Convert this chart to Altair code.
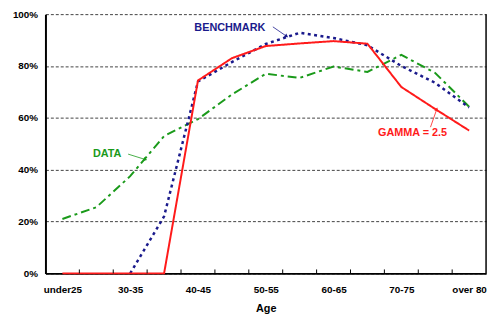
import json
import math
import altair as alt
import pandas as pd

categories = ["under25", "25-30", "30-35", "35-40", "40-45", "45-50", "50-55",
              "55-60", "60-65", "65-70", "70-75", "75-80", "over 80"]
data_vals = [21, 25.5, 37.5, 53, 59.5, 69, 77, 75.4, 79.8, 77.7, 84.3, 77.3, 64.3]
benchmark_vals = [None, None, 0, 22, 74, 81.5, 88.5, 92.8, 90.8, 88, 80, 73.5, 64]
gamma_vals = [0, 0, 0, 0, 74.4, 83, 87.7, 88.7, 89.6, 88.6, 71.9, 63.4, 55.1]

W, H = 447, 263
FONT = "Liberation Sans"
GREEN, NAVY, RED = "#1a9a1a", "#1a1a8c", "#ff1a1a"

rows = []
for name, vals in [("DATA", data_vals), ("BENCHMARK", benchmark_vals), ("GAMMA", gamma_vals)]:
    for i, v in enumerate(vals):
        if v is not None:
            rows.append({"series": name, "idx": i, "value": v})
df = pd.DataFrame(rows)

xscale = alt.Scale(domain=[-0.5, len(categories) - 0.5], nice=False, zero=False)
yscale = alt.Scale(domain=[0, 100], nice=False)

cat_js = json.dumps(categories)
x_axis = alt.Axis(values=list(range(0, len(categories), 2)),
                  labelExpr=f"{cat_js}[datum.value]",
                  ticks=False, grid=False, domainColor="black", domainWidth=2,
                  labelFont=FONT, labelFontWeight="bold", labelFontSize=10,
                  labelColor="black", labelPadding=11,
                  title="Age", titleFont=FONT, titleFontWeight="bold",
                  titleFontSize=11, titleColor="black", titlePadding=9)
y_axis = alt.Axis(values=[0, 20, 40, 60, 80, 100],
                  labelExpr="datum.value + '%'",
                  ticks=False, grid=True, gridColor="#111", gridDash=[3, 2],
                  gridWidth=0.8, domainColor="black", domainWidth=2,
                  labelFont=FONT, labelFontWeight="bold", labelFontSize=10,
                  labelColor="black", labelPadding=8, title=None)

def line_layer(name, color, dash, width):
    return alt.Chart(df).transform_filter(alt.datum.series == name).mark_line(
        color=color, strokeDash=dash, strokeWidth=width
    ).encode(
        x=alt.X("idx:Q", scale=xscale, axis=x_axis),
        y=alt.Y("value:Q", scale=yscale, axis=y_axis),
    )

# inward ticks at category boundaries
bounds = pd.DataFrame({"b": [i + 0.5 for i in range(len(categories) - 1)]})
ticks = alt.Chart(bounds).mark_rule(color="black", strokeWidth=1).encode(
    x=alt.X("b:Q", scale=xscale), y=alt.value(H), y2=alt.value(H - 4))

right_border = alt.Chart(pd.DataFrame({"b": [len(categories) - 0.5]})).mark_rule(
    color="black", strokeWidth=1.5).encode(
    x=alt.X("b:Q", scale=xscale), y=alt.value(0), y2=alt.value(H))

# annotations
ann_text = ["BENCHMARK", "DATA", "GAMMA = 2.5"]
ann_x = [4.94, 1.32, 10.33]
ann_y = [94.8, 46.0, 54.3]
ann_color = [NAVY, GREEN, RED]
arrow_x1 = [6.21, 1.94, 10.86]
arrow_y1 = [95.1, 46.0, 56.4]
arrow_x2 = [6.60, 2.43, 11.04]
arrow_y2 = [91.6, 44.0, 63.1]

pxu = W / len(categories)
pyu = H / 100.0
angles = [math.degrees(math.atan2((x2 - x1) * pxu, (y2 - y1) * pyu))
          for x1, y1, x2, y2 in zip(arrow_x1, arrow_y1, arrow_x2, arrow_y2)]
ann = pd.DataFrame({"text": ann_text, "x": ann_x, "y": ann_y, "color": ann_color,
                    "x1": arrow_x1, "y1": arrow_y1, "x2": arrow_x2, "y2": arrow_y2,
                    "angle": angles})

texts = alt.Chart(ann).mark_text(font=FONT, fontWeight="bold", fontSize=11).encode(
    x=alt.X("x:Q", scale=xscale), y=alt.Y("y:Q", scale=yscale),
    text="text:N", color=alt.Color("color:N", scale=None))
arrows = alt.Chart(ann).mark_rule(strokeWidth=0.8).encode(
    x=alt.X("x1:Q", scale=xscale), y=alt.Y("y1:Q", scale=yscale),
    x2="x2:Q", y2="y2:Q", color=alt.Color("color:N", scale=None))
heads = alt.Chart(ann).mark_point(shape="triangle", filled=True, size=18, opacity=1).encode(
    x=alt.X("x2:Q", scale=xscale), y=alt.Y("y2:Q", scale=yscale),
    angle=alt.Angle("angle:Q", scale=None), color=alt.Color("color:N", scale=None))

chart = alt.layer(
    line_layer("DATA", GREEN, [9, 4, 3, 4], 2),
    line_layer("BENCHMARK", NAVY, [3, 3.5], 2.5),
    line_layer("GAMMA", RED, [1, 0], 2),
    ticks, right_border, texts, arrows, heads,
).properties(
    width=W, height=H,
    autosize=alt.AutoSizeParams(type="none"),
    padding={"left": 38, "top": 4, "right": 4, "bottom": 41},
).configure_view(stroke=None)

chart.save("out.html", embed_options={"renderer": "svg", "actions": False})
